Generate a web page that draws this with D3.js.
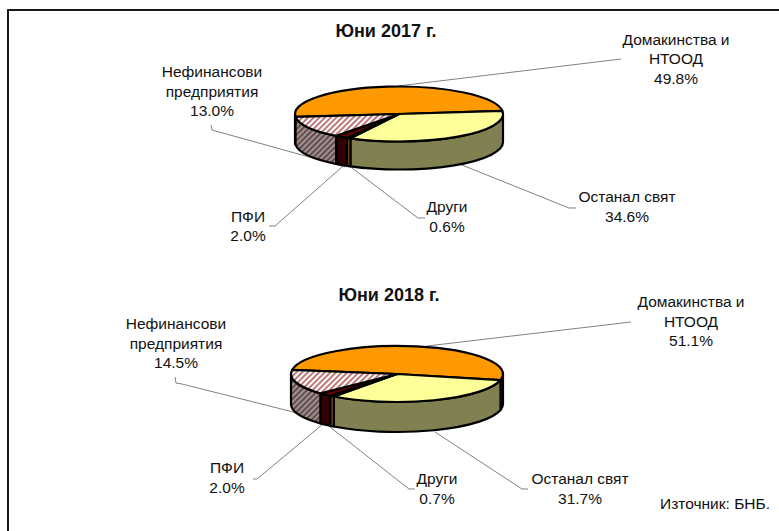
<!DOCTYPE html>
<html><head><meta charset="utf-8">
<script src="https://cdnjs.cloudflare.com/ajax/libs/d3/7.8.5/d3.min.js"></script>
<style>html,body{margin:0;padding:0;background:#fff;overflow:hidden}svg{display:block}text{font-family:"Liberation Sans",Arial,sans-serif;font-size:15.5px;fill:#111}</style>
</head><body><svg id="c" width="779" height="531"></svg>
<script>
const categories = ["Домакинства и НТООД","Останал свят","Други","ПФИ","Нефинансови предприятия"];
const values2017 = [49.8,34.6,0.6,2.0,13.0];
const values2018 = [51.1,31.7,0.7,2.0,14.5];
const titles = ["Юни 2017 г.","Юни 2018 г."];
const source = "Източник: БНБ.";

const topFill = ["#FF9900","#FFFF99","#FF9900","#660000","url(#hatchTop)"];
const sideFill = ["#804D00","#808050","#804D00","#330000","url(#hatchSide)"];

const charts = [
 {title:titles[0],values:values2017,first:264,cx:399,cy:114,rx:104,ry:27.5,depth:28,titleX:386,titleY:37,
  labels:[[676,[45,64,84]],[627,[202,222]],[447,[212,232]],[248,[222,241]],[212,[77,97,116]]],
  leaders:[[[621,59],[398,86]],
           [[576,208],[569,208],[462,165]],
           [[425,218],[418,218],[352,168]],
           [[269,226],[275,226],[342,167]],
           [[211,125],[212,130],[345,167]]]},
 {title:titles[1],values:values2018,first:278.5,cx:397,cy:374,rx:106,ry:28,depth:30,titleX:389,titleY:301,
  labels:[[691,[307,327,346]],[580,[484,504]],[437,[484,504]],[227,[473,493]],[176,[329,349,368]]],
  leaders:[[[631,322],[427,346]],
           [[528,489],[522,489],[435,432]],
           [[415,489],[409,489],[330,427]],
           [[253,479],[257,479],[323,424]],
           [[175,377],[176,383],[182,384],[325,420]]]}
];
const labelLines = [["Домакинства и","НТООД"],[categories[1]],[categories[2]],[categories[3]],["Нефинансови","предприятия"]];

const svg = d3.select("#c");
const defs = svg.append("defs");
function hatch(id,bg,fg){
  const p = defs.append("pattern").attr("id",id).attr("patternUnits","userSpaceOnUse")
    .attr("width",4).attr("height",4).attr("patternTransform","rotate(45)");
  p.append("rect").attr("width",4).attr("height",4).attr("fill",bg);
  p.append("rect").attr("width",1.8).attr("height",4).attr("fill",fg);
}
hatch("hatchTop","#ffffff","#B86B6B");
hatch("hatchSide","#A09090","#5A4545");

svg.append("rect").attr("x",8).attr("y",10).attr("width",800).attr("height",560)
   .attr("fill","#fff").attr("stroke","#000").attr("stroke-width",1.8);

const toRad = d3.scaleLinear().domain([0,360]).range([0,2*Math.PI]);
const leaderLine = d3.line();
const SW = 2.2;

charts.forEach(ch=>{
  const start = toRad(ch.first);
  const arcs = d3.pie().sort(null).startAngle(start).endAngle(start+2*Math.PI)(ch.values);
  const X = d3.scaleLinear().domain([-1,1]).range([ch.cx-ch.rx,ch.cx+ch.rx]);
  const Y = d3.scaleLinear().domain([-1,1]).range([ch.cy-ch.ry,ch.cy+ch.ry]);
  const px = a=>X(Math.sin(a)), py = a=>Y(-Math.cos(a));
  const g = svg.append("g");

  ch.leaders.forEach(pts=>{
    g.append("path").attr("d",leaderLine(pts)).attr("fill","none")
     .attr("stroke","#808080").attr("stroke-width",1);
  });

  arcs.forEach((d,i)=>{
    [0,2*Math.PI].forEach(off=>{
      const a0 = Math.max(d.startAngle,Math.PI/2+off), a1 = Math.min(d.endAngle,1.5*Math.PI+off);
      if(a1<=a0) return;
      const p = `M${px(a0)},${py(a0)}A${ch.rx},${ch.ry} 0 0 1 ${px(a1)},${py(a1)}`+
        `L${px(a1)},${py(a1)+ch.depth}A${ch.rx},${ch.ry} 0 0 0 ${px(a0)},${py(a0)+ch.depth}Z`;
      g.append("path").attr("d",p).attr("fill",sideFill[i]).attr("stroke","#000").attr("stroke-width",SW).attr("stroke-linejoin","round");
    });
  });
  arcs.forEach((d,i)=>{
    const large = (d.endAngle-d.startAngle)>Math.PI?1:0;
    const p = `M${X(0)},${Y(0)}L${px(d.startAngle)},${py(d.startAngle)}A${ch.rx},${ch.ry} 0 ${large} 1 ${px(d.endAngle)},${py(d.endAngle)}Z`;
    g.append("path").attr("d",p).attr("fill",topFill[i]).attr("stroke","#000").attr("stroke-width",SW).attr("stroke-linejoin","round");
  });

  g.append("text").attr("x",ch.titleX).attr("y",ch.titleY).attr("text-anchor","middle")
    .style("font-weight","bold").style("font-size","18px").text(ch.title);

  ch.labels.forEach((l,i)=>{
    const lines = labelLines[i].concat([d3.format(".1f")(ch.values[i])+"%"]);
    lines.forEach((t,j)=>{
      g.append("text").attr("x",l[0]).attr("y",l[1][j]).attr("text-anchor","middle").text(t);
    });
  });
});

svg.append("text").attr("x",660).attr("y",509).text(source);
</script></body></html>
